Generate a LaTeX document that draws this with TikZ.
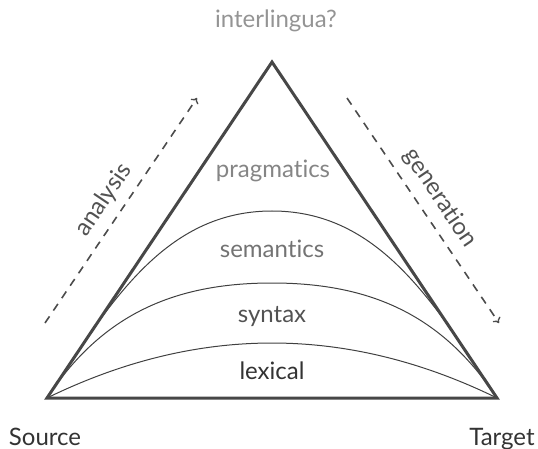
\documentclass[tikz,border=0pt]{standalone}
\usepackage{fontspec}
\setmainfont{Lato}[Ligatures=NoCommon]
\usetikzlibrary{arrows.meta}
\begin{document}
\begin{tikzpicture}[x=1pt,y=-1pt,
  edge/.style={line width=3pt,draw=black!72,line join=miter},
  layer/.style={line width=1pt,draw=black!75},
  flow/.style={line width=1.6pt,draw=black!70,dash pattern=on 8pt off 7pt,
    -{To[length=5pt,width=9pt,line width=1.4pt]}},
  lbl/.style={font=\fontsize{24}{28}\selectfont,inner sep=0pt,anchor=base},
  side/.style={font=\fontsize{24}{28}\selectfont,inner sep=0pt,text=black!68}]
\useasboundingbox (0,0) rectangle (538,449);

% corners of the triangle
\coordinate (S) at (47,398);
\coordinate (T) at (497,398);
\coordinate (A) at (272,62);

% layer boundaries
\coordinate (pS) at (272,211);
\coordinate (pY) at (272,283);
\draw[layer] (S) .. controls (110,302.4) and (165,211) .. (pS)
                 .. controls (379,211) and (434,302.4) .. (T);
\draw[layer] (S) .. controls (101.4,315.4) and (173,283) .. (pY)
                 .. controls (371,283) and (442.6,315.4) .. (T);
\draw[layer] (S) .. controls (197,324.7) and (347,324.7) .. (T);

% triangle outline
\draw[edge] (S) -- (A) -- (T) -- cycle;

% layer names
\node[lbl,text=black!42] (inter) at (276,28) {interlingua?};
\node[lbl,text=black!48] (prag) at (273,178) {pragmatics};
\node[lbl,text=black!55] (sem) at (272,257) {semantics};
\node[lbl,text=black!68] (syn) at (272,322) {syntax};
\node[lbl,text=black!80] (lex) at (272,379) {lexical};

% end points
\node[lbl,text=black!80] (src) at (45,445) {Source};
\node[lbl,text=black!80] (tgt) at (502,445) {Target};

% direction of processing
\coordinate (a0) at (45,323);
\coordinate (a1) at (197,98);
\coordinate (g0) at (347,98);
\coordinate (g1) at (499,323);
\draw[flow] (a0) -- (a1);
\draw[flow] (g0) -- (g1);
\node[side,rotate=56] (ana) at (104,200) {analysis};
\node[side,rotate=-56] (gen) at (440,198) {generation};
\end{tikzpicture}
\end{document}
